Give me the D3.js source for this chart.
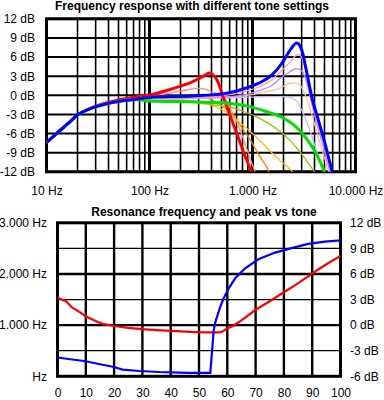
<!DOCTYPE html>
<html><head><meta charset="utf-8">
<script src="https://cdn.jsdelivr.net/npm/d3@7"></script>
<style>
html,body{margin:0;padding:0;background:#fff;}
svg{display:block;}
text{font-family:"Liberation Sans",Arial,sans-serif;font-size:12px;fill:#000;}
.title{font-weight:bold;font-size:12px;}
</style></head><body>
<svg id="c" width="384" height="400"></svg>
<script>
// ---------- Data: top chart (frequency Hz, level dB) per tone setting ----------
const lowEnd = [[10,-7.4],[12.5,-6.0],[16,-4.5],[20,-3.1],[27,-2.05],[38,-1.35],[53,-0.9],[74,-0.62]];
const tone0  = [[10,-7.4],[12.5,-6.0],[16,-4.5],[20,-3.1],[27,-2.0],[38,-1.2],[50,-0.75],[70,-0.3],[100,0.05],[150,0.8],[200,1.45],[250,2.0],[300,2.6],[350,3.2],[380,3.5],[420,3.1],[455,2.3],[480,1.4],[505,0.3],[565,-1.8],[630,-3.9],[700,-5.9],[785,-8.1],[870,-10],[954,-11.6],[1050,-13.5]];
const tone10 = [[100,-0.2],[150,0.3],[200,0.7],[250,0.95],[300,1.1],[350,0.95],[400,0.55],[480,0.1],[556,-0.8],[620,-2.3],[695,-3.9],[780,-6.0],[868,-8.1],[950,-10],[1036,-11.6],[1120,-13.5]];
const tone20 = [[100,-0.3],[150,-0.1],[200,0.0],[300,-0.2],[400,-0.7],[500,-1.6],[650,-3.2],[800,-5.2],[950,-7.0],[1150,-9.3],[1400,-11.5],[1550,-13]];
const tone30 = [[100,-0.5],[200,-0.7],[300,-1.0],[400,-1.5],[500,-2.2],[600,-3.0],[800,-4.6],[1000,-6.0],[1300,-7.8],[1600,-9.3],[2000,-10.7],[2500,-12.2],[2700,-13]];
const tone40 = [[100,-0.75],[250,-1.1],[420,-1.5],[650,-2.0],[876,-2.7],[1200,-3.7],[1700,-5.2],[2100,-6.4],[2600,-8.0],[3200,-9.8],[3800,-11.5],[4200,-12.5]];
const tone50 = [[100,-0.9],[300,-1.05],[550,-1.2],[900,-1.7],[1330,-2.5],[1900,-3.4],[2500,-4.6],[3200,-6.4],[3900,-8.4],[4500,-10.3],[5000,-12],[5300,-13]];
const tone60 = [[100,-0.6],[300,-0.5],[1000,-0.3],[1500,-0.2],[1900,-0.2],[2400,-0.4],[2700,-1.0],[3000,-2.3],[3500,-4.9],[4050,-8],[4700,-11.2],[5100,-12.5]];
const tone70 = [[100,-0.5],[300,-0.45],[600,-0.3],[1000,0.1],[1400,0.6],[1845,1.1],[2305,1.9],[2570,1.95],[2900,1.6],[3150,0.55],[3400,-0.75],[3800,-3.2],[4300,-6.3],[5000,-9.8],[5600,-12.5]];
const tone80 = [[100,-0.45],[300,-0.4],[600,-0.2],[900,0.2],[1200,0.8],[1600,1.7],[1845,2.6],[2305,3.7],[2660,4.2],[2988,3.9],[3222,2.9],[3473,1.1],[3800,-1.6],[4300,-5.0],[5000,-8.8],[5750,-12.5]];
const tone90 = [[100,-0.4],[300,-0.3],[550,0.0],[850,0.6],[1150,1.3],[1500,2.3],[1845,3.6],[2305,5.2],[2573,6.1],[2768,6.4],[2988,6.0],[3222,4.5],[3473,2.4],[3800,-0.6],[4300,-4.2],[5000,-7.9],[5850,-12.5]];
const tone100= [[100,-0.33],[261,-0.1],[548,0.3],[854,1.1],[1150,1.9],[1545,3.2],[1929,5.0],[2320,7.1],[2692,8.2],[3008,7.1],[3361,3.6],[3755,-0.2],[4358,-3.9],[5046,-7.5],[5948,-12],[6200,-13]];

const toneCurves = [
  {data: tone10, color:"#ff8c8c", w:1.3},
  {data: tone20, color:"#ff8000", w:1.3},
  {data: tone30, color:"#ffc000", w:1.3},
  {data: tone40, color:"#a0c000", w:1.3},
  {data: tone60, color:"#c0c0ff", w:1.3},
  {data: tone70, color:"#ffc090", w:1.3},
  {data: tone80, color:"#c088ff", w:1.3},
  {data: tone90, color:"#ff98c8", w:1.3},
  {data: tone0,  color:"#ff0000", w:3},
  {data: tone50, color:"#00e000", w:3},
  {data: tone100,color:"#0000ff", w:3}
];

const freqTicks = [10,100,1000,10000];
const dbTicks = [-12,-9,-6,-3,0,3,6,9,12];

// ---------- Data: bottom chart ----------
const peakTone = [0,3,5,8,10,14,16,20,25,30,35,42,47,52,57,58,60,62,65,70,75,80,84,89,92,96,100];
const peakDb   = [3.2,2.8,2.1,1.5,1.05,0.4,0.15,-0.1,-0.32,-0.47,-0.58,-0.71,-0.8,-0.85,-0.86,-0.8,-0.39,-0.1,0.55,1.8,2.8,3.85,4.7,5.8,6.5,7.35,8.1];
const resTone  = [0,4.5,10,15,20,23,29,36,43,47,54,55.2,55.8,57.5,58.7,60.5,62.8,66.3,71,76.9,82.7,88.6,94.5,100];
const resHz    = [367,333,294,235,182,131,104,84,73,66,68,900,1065,1359,1523,1719,1915,2111,2288,2418,2504,2588,2633,2655];
const toneTicks = [0,10,20,30,40,50,60,70,80,90,100];
const hzTicks = [0,1000,2000,3000];
const rightDbTicks = [-6,-3,0,3,6,9,12];

const locale = d3.formatLocale({decimal:",", thousands:".", grouping:[3], currency:["",""]});
const fmt = locale.format(",");

const svg = d3.select("#c");

// ================= TOP CHART =================
const fx = d3.scaleLog().domain([10,10000]).range([46.5,355.5]);
const fy = d3.scaleLinear().domain([-12,12]).range([171.8,18.8]);

svg.append("text").attr("class","title").attr("x",192).attr("y",9.5).attr("text-anchor","middle")
  .text("Frequency response with different tone settings");

const topG = svg.append("g");
const vlines = [];
[10,100,1000].forEach(d=>{ for(let k=1;k<=9;k++) vlines.push(d*k); });
vlines.push(10000);
topG.selectAll("line.v").data(vlines).join("line")
  .attr("x1",d=>fx(d)).attr("x2",d=>fx(d)).attr("y1",fy(12)).attr("y2",fy(-12))
  .attr("stroke","#000").attr("stroke-width",d=>freqTicks.includes(d)?3:1.6);
topG.selectAll("line.h").data(dbTicks).join("line")
  .attr("x1",fx(10)).attr("x2",fx(10000)).attr("y1",d=>fy(d)).attr("y2",d=>fy(d))
  .attr("stroke","#000").attr("stroke-width",2);
topG.append("rect").attr("x",fx(10)).attr("y",fy(12)).attr("width",fx(10000)-fx(10)).attr("height",fy(-12)-fy(12))
  .attr("fill","none").attr("stroke","#000").attr("stroke-width",3);

svg.append("clipPath").attr("id","clipTop").append("rect")
  .attr("x",fx(10)).attr("y",fy(12)).attr("width",fx(10000)-fx(10)).attr("height",fy(-12)-fy(12));

const fline = d3.line().x(d=>fx(d[0])).y(d=>fy(d[1])).curve(d3.curveMonotoneX);
const cg = svg.append("g").attr("clip-path","url(#clipTop)");
toneCurves.forEach(c=>{
  const pts = c.data[0][0] > 10 ? lowEnd.concat(c.data) : c.data;
  cg.append("path").attr("d",fline(pts)).attr("fill","none")
    .attr("stroke",c.color).attr("stroke-width",c.w).attr("stroke-linejoin","round");
});

const yAxisTop = svg.append("g").attr("transform",`translate(${fx(10)},0)`)
  .call(d3.axisLeft(fy).tickValues(dbTicks).tickSize(0).tickPadding(11.5).tickFormat(d=>d+" dB"));
yAxisTop.select(".domain").remove();
const xAxisTop = svg.append("g").attr("transform",`translate(0,${fy(-12)})`)
  .call(d3.axisBottom(fx).tickValues(freqTicks).tickSize(0).tickPadding(15).tickFormat(d=>fmt(d)+" Hz"));
xAxisTop.select(".domain").remove();

// ================= BOTTOM CHART =================
const tx = d3.scaleLinear().domain([0,100]).range([57.5,340.5]);
const hy = d3.scaleLinear().domain([0,3000]).range([376.3,222.8]);
const dyS = d3.scaleLinear().domain([-6,12]).range([376.3,222.8]);

svg.append("text").attr("class","title").attr("x",204).attr("y",215.5).attr("text-anchor","middle")
  .text("Resonance frequency and peak vs tone");

const bot = svg.append("g");
bot.selectAll("line.v").data(toneTicks).join("line")
  .attr("x1",d=>tx(d)).attr("x2",d=>tx(d)).attr("y1",hy(3000)).attr("y2",hy(0))
  .attr("stroke","#000").attr("stroke-width",2.4);
bot.selectAll("line.h").data([500,1000,1500,2000,2500]).join("line")
  .attr("x1",tx(0)).attr("x2",tx(100)).attr("y1",d=>hy(d)).attr("y2",d=>hy(d))
  .attr("stroke","#000").attr("stroke-width",d=>d%1000===0?2.4:1.2);
bot.append("rect").attr("x",tx(0)).attr("y",hy(3000)).attr("width",tx(100)-tx(0)).attr("height",hy(0)-hy(3000))
  .attr("fill","none").attr("stroke","#000").attr("stroke-width",3);

const resLine = d3.line().x(d=>tx(d[0])).y(d=>hy(d[1]));
const peakLine = d3.line().x(d=>tx(d[0])).y(d=>dyS(d[1]));
svg.append("path").attr("d",peakLine(peakTone.map((t,i)=>[t,peakDb[i]]))).attr("fill","none")
  .attr("stroke","#ff0000").attr("stroke-width",2.2);
svg.append("path").attr("d",resLine(resTone.map((t,i)=>[t,resHz[i]]))).attr("fill","none")
  .attr("stroke","#0000ff").attr("stroke-width",2.2);

const yl = svg.append("g").attr("transform",`translate(${tx(0)},0)`)
  .call(d3.axisLeft(hy).tickValues(hzTicks).tickSize(0).tickPadding(10.5).tickFormat(d=>d===0?"Hz":fmt(d)+" Hz"));
yl.select(".domain").remove();
const yr = svg.append("g").attr("transform",`translate(${tx(100)},0)`)
  .call(d3.axisRight(dyS).tickValues(rightDbTicks).tickSize(0).tickPadding(9.5).tickFormat(d=>d+" dB"));
yr.select(".domain").remove();
const xb = svg.append("g").attr("transform",`translate(0,${hy(0)})`)
  .call(d3.axisBottom(tx).tickValues(toneTicks).tickSize(0).tickPadding(12).tickFormat(d=>d));
xb.select(".domain").remove();
svg.selectAll(".tick text").attr("font-size",12).attr("font-family",'"Liberation Sans",Arial,sans-serif');
</script>
</body></html>
